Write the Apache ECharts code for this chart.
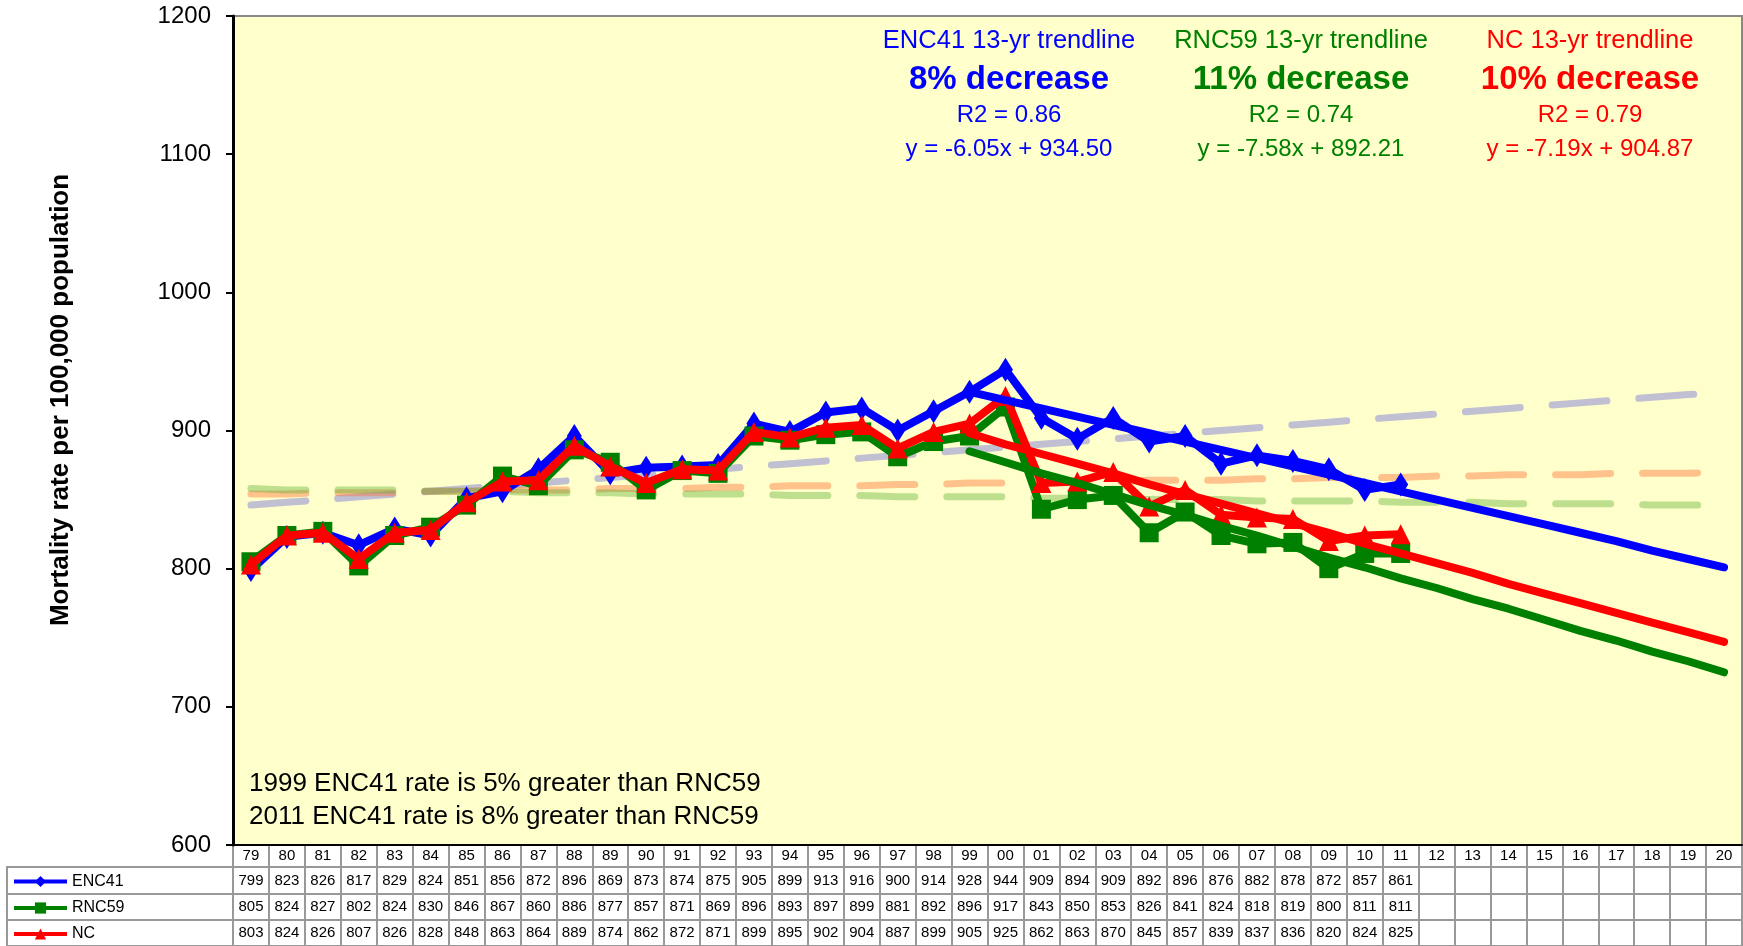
<!DOCTYPE html>
<html>
<head>
<meta charset="utf-8">
<script src="https://cdn.jsdelivr.net/npm/echarts@6.0.0/dist/echarts.min.js"></script>
<style>
  html, body { margin: 0; padding: 0; background: #fff; }
  #chart { width: 1743px; height: 946px; }
</style>
</head>
<body>
<div id="chart"></div>
<script>
// ---- data ----
const years = ['79','80','81','82','83','84','85','86','87','88','89','90','91','92','93','94','95','96','97','98','99',
  '00','01','02','03','04','05','06','07','08','09','10','11','12','13','14','15','16','17','18','19','20'];

const enc41 = [799,823,826,817,829,824,851,856,872,896,869,873,874,875,905,899,913,916,900,914,928,
  944,909,894,909,892,896,876,882,878,872,857,861];
const rnc59 = [805,824,827,802,824,830,846,867,860,886,877,857,871,869,896,893,897,899,881,892,896,
  917,843,850,853,826,841,824,818,819,800,811,811];
const nc = [803,824,826,807,826,828,848,863,864,889,874,862,872,871,899,895,902,904,887,899,905,
  925,862,863,870,845,857,839,837,836,820,824,825];

// 13-yr trendlines, 99 .. 20
const enc41Trend = [928,922,916,910,904,898,892,886,880,874,868,862,856,850,844,838,832,826,820,813,807,801];
const rnc59Trend = [885,877,869,862,854,846,839,831,824,816,808,801,793,786,778,771,763,755,748,740,733,725];
const ncTrend = [898,890,883,876,869,861,854,847,840,833,826,818,811,804,797,789,782,775,768,761,754,747];

// long faded trendlines, 79 .. 20
const enc41Long = [846,848,850,852,854,856,858,860,862,864, 866,868,870,872,874,876,878,880,882,884,
  886,888,890,892,894,896,898,900,902,904, 906,908,910,912,914,916,918,920,922,924, 926,928];
const ncLong = [854,854,855,855,855,856,856,857,857,857, 858,858,858,859,859,860,860,860,861,861,
  862,862,862,863,863,864,864,864,865,865, 866,866,866,867,867,868,868,868,869,869, 869,870];
const rnc59Long = [858,857,857,857,857,856,856,856,855,855, 855,854,854,854,854,853,853,853,852,852,
  852,852,851,851,851,850,850,850,849,849, 849,849,848,848,848,847,847,847,847,846, 846,846];

const trendNotes = [
  { title: 'ENC41 13-yr trendline', big: '8% decrease', r2: 'R2 = 0.86', eq: 'y = -6.05x + 934.50', color: '#0000ff', x: 1009 },
  { title: 'RNC59 13-yr trendline', big: '11% decrease', r2: 'R2 = 0.74', eq: 'y = -7.58x + 892.21', color: '#008000', x: 1301 },
  { title: 'NC 13-yr trendline', big: '10% decrease', r2: 'R2 = 0.79', eq: 'y = -7.19x + 904.87', color: '#ff0000', x: 1590 },
];
const notes = ['1999 ENC41 rate is 5% greater than RNC59', '2011 ENC41 rate is 8% greater than RNC59'];

// ---- layout ----
const FONT = '"Liberation Sans", Arial, sans-serif';
const PLOT_LEFT = 233;
const lead = (arr) => Array(years.length - arr.length).fill(null).concat(arr);

const tableRows = [
  { top: 845, h: 22, labels: years },
  { top: 867, h: 27, labels: enc41, name: 'ENC41' },
  { top: 894, h: 26, labels: rnc59, name: 'RNC59' },
  { top: 920, h: 26, labels: nc, name: 'NC' },
];

const grids = [{
  left: PLOT_LEFT, right: 1, top: 16, bottom: 101,
  show: true, backgroundColor: '#ffffcc', borderColor: '#888', borderWidth: 2,
}];
const xAxes = [{
  gridIndex: 0, type: 'category', data: years, boundaryGap: true, z: 10,
  axisLine: { lineStyle: { color: '#000', width: 2 } },
  axisTick: { show: false }, axisLabel: { show: false }, splitLine: { show: false },
}];
const yAxes = [{
  gridIndex: 0, type: 'value', min: 600, max: 1200, interval: 100,
  axisLine: { show: true, lineStyle: { color: '#000', width: 3 } },
  axisTick: { show: true, length: 7, lineStyle: { color: '#000', width: 2 } },
  axisLabel: { fontSize: 24, color: '#000', margin: 22, fontFamily: FONT, formatter: (v) => String(v) },
  splitLine: { show: false },
}];

tableRows.forEach((row, i) => {
  grids.push({
    left: PLOT_LEFT, right: 1, top: row.top, height: row.h,
    show: true, backgroundColor: '#fff', borderColor: '#999', borderWidth: 2,
  });
  xAxes.push({
    gridIndex: i + 1, type: 'category', data: years, boundaryGap: true, position: 'top',
    axisLine: { show: false }, axisTick: { show: false },
    splitLine: { show: true, interval: 0, lineStyle: { color: '#999', width: 2 } },
    axisLabel: {
      inside: true, interval: 0, margin: row.h / 2, verticalAlign: 'middle',
      fontSize: 15, color: '#000', fontFamily: FONT,
      formatter: (v, idx) => (row.labels[idx] == null ? '' : String(row.labels[idx])),
    },
  });
  yAxes.push({ gridIndex: i + 1, type: 'value', show: false });
});

const legendRows = tableRows.slice(1);
const legendCells = legendRows.map((row) => ({
  type: 'rect', z: 0,
  shape: { x: 7, y: row.top, width: PLOT_LEFT - 7, height: row.h },
  style: { fill: '#fff', stroke: '#999', lineWidth: 2 },
}));
const legends = legendRows.map((row) => ({
  data: [row.name], orient: 'horizontal', left: 12, top: row.top + row.h / 2 - 7,
  padding: 0, itemWidth: 53, itemHeight: 14, z: 10,
  lineStyle: { width: 4 },
  textStyle: { fontSize: 16, color: '#000', lineHeight: 14, fontFamily: FONT },
}));

const textEl = (x, y, text, size, color, weight, align, rot) => ({
  type: 'text', x, y, z: 20, rotation: rot || 0,
  style: {
    text, fill: color, font: `${weight} ${size}px ${FONT}`,
    textAlign: align, textVerticalAlign: 'middle', align, verticalAlign: 'middle',
  },
});

const texts = [];
trendNotes.forEach((t) => {
  texts.push(textEl(t.x, 41, t.title, 25.5, t.color, 'normal', 'center'));
  texts.push(textEl(t.x, 80, t.big, 33, t.color, 'bold', 'center'));
  texts.push(textEl(t.x, 115, t.r2, 24, t.color, 'normal', 'center'));
  texts.push(textEl(t.x, 149, t.eq, 24, t.color, 'normal', 'center'));
});
notes.forEach((n, i) => texts.push(textEl(249, 784 + i * 33, n, 26, '#000', 'normal', 'left')));
texts.push(textEl(61, 400, 'Mortality rate per 100,000 population', 26, '#000', 'bold', 'center', Math.PI / 2));

const dashed = (data, color) => ({
  type: 'line', data, symbol: 'none', silent: true, z: 1,
  lineStyle: { color, width: 7, type: [55, 32], cap: 'round' },
});
const trend = (data, color) => ({
  type: 'line', data: lead(data), symbol: 'none', silent: true, z: 5,
  lineStyle: { color, width: 8, cap: 'round' },
});

const chart = echarts.init(document.getElementById('chart'));
chart.setOption({
  animation: false,
  textStyle: { fontFamily: FONT },
  grid: grids,
  xAxis: xAxes,
  yAxis: yAxes,
  legend: legends,
  graphic: legendCells.concat(texts),
  series: [
    dashed(enc41Long, 'rgba(130,130,215,0.5)'),
    dashed(ncLong, 'rgba(255,110,50,0.42)'),
    dashed(rnc59Long, 'rgba(90,175,50,0.4)'),
    { name: 'ENC41', type: 'line', data: enc41, color: '#0000ff', symbol: 'diamond', symbolSize: [15, 24],
      showAllSymbol: true, z: 2, lineStyle: { width: 8 } },
    { name: 'RNC59', type: 'line', data: rnc59, color: '#008000', symbol: 'rect', symbolSize: 19,
      showAllSymbol: true, z: 3, lineStyle: { width: 8 } },
    { name: 'NC', type: 'line', data: nc, color: '#ff0000', symbol: 'triangle', symbolSize: [20, 20],
      showAllSymbol: true, z: 4, lineStyle: { width: 8 } },
    trend(enc41Trend, '#0000ff'),
    trend(rnc59Trend, '#008000'),
    trend(ncTrend, '#ff0000'),
  ],
});
</script>
</body>
</html>
